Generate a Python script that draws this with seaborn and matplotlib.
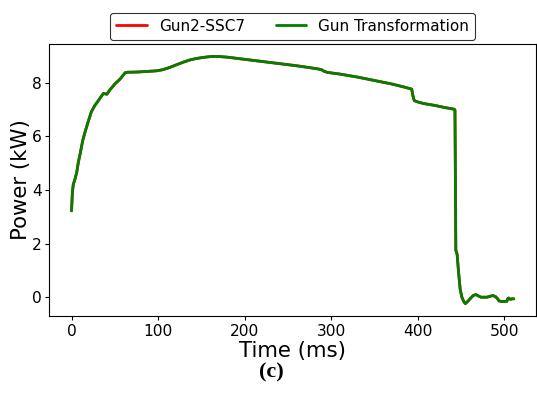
import matplotlib
matplotlib.use("Agg")
import matplotlib.pyplot as plt
import seaborn as sns
import pandas as pd

# Power trace (kW) over time (ms)
time_ms = [0, 1, 2, 4, 6, 8, 10, 13, 16, 20, 23, 27, 31, 35, 37, 39, 41, 44, 47, 50,
           53, 56, 59, 62, 65, 70, 78, 88, 98, 105, 112, 120, 128, 136, 144, 152, 160,
           166, 172, 180, 190, 200, 215, 230, 245, 260, 275, 285, 289, 292, 296, 310,
           330, 350, 370, 385, 393, 394.5, 396, 400, 407, 420, 430, 442, 443, 443.5,
           444, 445.5, 447, 449, 451, 453, 455, 458, 461, 464, 467, 470, 473, 476, 480,
           484, 487, 490, 492, 494, 497, 500, 503, 504, 505, 507, 509, 511]
power_kw = [3.22, 3.9, 4.2, 4.4, 4.65, 5.05, 5.35, 5.85, 6.2, 6.62, 6.92, 7.15, 7.33,
            7.52, 7.6, 7.58, 7.57, 7.72, 7.83, 7.95, 8.04, 8.13, 8.25, 8.37, 8.39, 8.39,
            8.4, 8.42, 8.44, 8.48, 8.55, 8.65, 8.75, 8.84, 8.9, 8.94, 8.97, 8.98, 8.97,
            8.95, 8.91, 8.87, 8.81, 8.75, 8.69, 8.63, 8.56, 8.51, 8.48, 8.42, 8.38, 8.32,
            8.21, 8.08, 7.95, 7.83, 7.76, 7.5, 7.33, 7.28, 7.22, 7.15, 7.08, 7.01, 6.98,
            4.5, 1.75, 1.6, 1.0, 0.3, 0.0, -0.15, -0.24, -0.15, -0.04, 0.06, 0.1, 0.05,
            0.0, 0.0, 0.0, 0.04, 0.06, 0.02, -0.05, -0.14, -0.16, -0.16, -0.15, -0.05,
            -0.03, -0.08, -0.06, -0.06]

series_names = ["Gun2-SSC7", "Gun Transformation"]
series_colors = ["red", "green"]

df = pd.DataFrame({"Time": time_ms, "Power": power_kw})

sns.set_style("ticks")
plt.rcParams["font.family"] = ["DejaVu Sans"]
plt.rcParams.update({"text.color": "black", "axes.labelcolor": "black",
                     "xtick.color": "black", "ytick.color": "black",
                     "axes.edgecolor": "black"})

fig = plt.figure(figsize=(5.37, 3.95), dpi=100)
ax = fig.add_axes([0.092, 0.2, 0.906, 0.6886])

for name, color in zip(series_names, series_colors):
    sns.lineplot(data=df, x="Time", y="Power", ax=ax, color=color, linewidth=2,
                 label=name, estimator=None, sort=False)

ax.set_xlabel("Time (ms)", fontsize=15.3, labelpad=2)
ax.set_ylabel("Power (kW)", fontsize=15.3, labelpad=1)
ax.tick_params(axis="both", labelsize=11.2, direction="out", length=3, width=0.8,
               pad=2.5, colors="black")
ax.set_xticks([0, 100, 200, 300, 400, 500])
ax.set_yticks([0, 2, 4, 6, 8])
for s in ax.spines.values():
    s.set_color("black")
    s.set_linewidth(0.8)

leg = ax.legend(loc="lower center", bbox_to_anchor=(0.5, 1.015), ncol=2,
                fontsize=11, frameon=True, fancybox=True, borderaxespad=0.0)
leg.get_frame().set_edgecolor("black")
leg.get_frame().set_linewidth(0.8)

fig.text(0.505, 0.058, "(c)", ha="center", va="center", fontsize=16,
         fontweight="bold", family="Liberation Serif")

fig.savefig("out.png", dpi=100)
